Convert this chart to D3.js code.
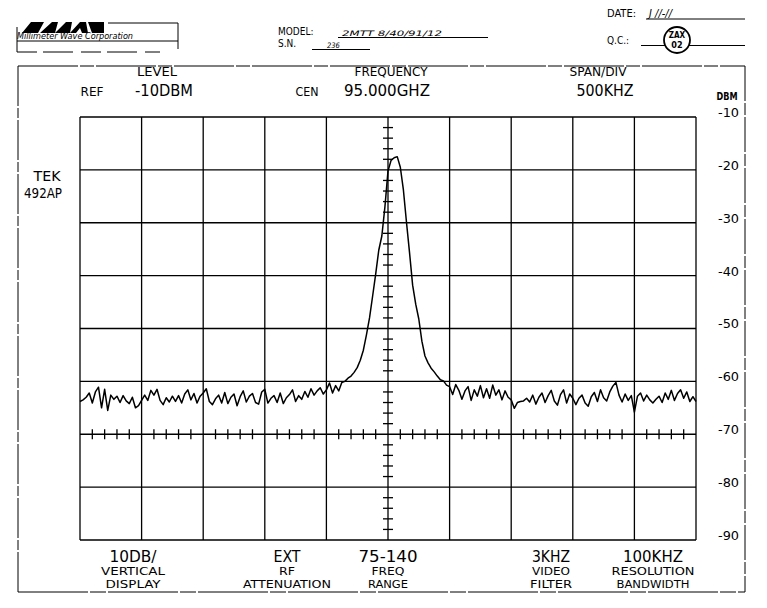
<!DOCTYPE html>
<html><head><meta charset="utf-8">
<script src="https://cdn.jsdelivr.net/npm/d3@7"></script>
<style>
html,body{margin:0;padding:0;background:#fff;}
svg{display:block;}
text{font-family:"DejaVu Sans Condensed","Liberation Sans Narrow","DejaVu Sans",sans-serif;fill:#000;}
</style></head><body>
<svg id="c" width="767" height="608"></svg>
<script>
// ---------------- data ----------------
const xTicksKHz = [-2500,-2000,-1500,-1000,-500,0,500,1000,1500,2000,2500];
const yTicksDbm = [-10,-20,-30,-40,-50,-60,-70,-80,-90];
const yTickLabels = ["-10","-20","-30","-40","-50","-60","-70","-80","-90"];
const yUnitLabel = "DBM";
const headerTitles = ["LEVEL","FREQUENCY","SPAN/DIV"];
const headerPrefixes = ["REF","CEN",""];
const headerValues = ["-10DBM","95.000GHZ","500KHZ"];
const instrumentLabel = ["TEK","492AP"];
const footerValues = ["10DB/","EXT","75-140","3KHZ","100KHZ"];
const footerLine1 = ["VERTICAL","RF","FREQ","VIDEO","RESOLUTION"];
const footerLine2 = ["DISPLAY","ATTENUATION","RANGE","FILTER","BANDWIDTH"];
const docFields = {model:"2MTT 8/40/91/12", sn:"236", date:"J //-//", qc:["ZAX","02"]};
const traceStartKHz = -2500;
const traceStepKHz = 25;
const traceDbm = [
 -63.8,-63.5,-63.0,-62.2,-64.1,-62.0,-61.1,-65.0,-61.5,-65.5,
 -62.6,-63.4,-62.8,-64.0,-62.7,-63.7,-64.2,-63.0,-65.0,-64.6,
 -63.6,-62.6,-63.6,-61.7,-62.6,-61.5,-63.6,-64.4,-63.1,-63.9,
 -62.8,-63.8,-62.7,-64.1,-62.4,-61.6,-63.5,-62.3,-64.1,-62.8,
 -62.2,-61.4,-63.8,-64.4,-63.3,-62.6,-64.1,-62.1,-64.2,-63.0,
 -62.4,-64.6,-62.9,-61.8,-63.9,-62.8,-62.3,-64.0,-64.3,-62.0,
 -61.5,-64.1,-63.2,-62.7,-64.0,-62.2,-64.2,-63.1,-62.5,-61.6,
 -63.8,-62.7,-63.4,-61.9,-63.0,-61.4,-62.6,-61.8,-61.2,-62.4,
 -61.6,-60.3,-62.2,-60.8,-61.8,-60.2,-60.0,-59.4,-59.0,-58.3,
 -57.4,-56.0,-54.1,-51.2,-48.0,-43.9,-39.7,-35.2,-32.5,-27.0,
 -20.2,-18.2,-17.7,-17.5,-19.5,-23.8,-29.9,-35.7,-41.8,-45.4,
 -48.2,-52.4,-55.2,-56.5,-57.5,-58.2,-59.0,-59.7,-59.9,-60.7,
 -61.0,-62.5,-60.6,-61.7,-63.4,-61.8,-61.0,-63.6,-61.6,-62.8,
 -60.8,-63.1,-61.4,-63.2,-60.7,-62.6,-61.6,-63.5,-61.8,-63.0,
 -63.5,-65.1,-64.0,-63.8,-63.7,-63.2,-63.9,-62.6,-64.3,-63.0,
 -62.2,-64.0,-62.7,-61.7,-63.7,-64.5,-62.5,-61.6,-64.1,-62.4,
 -63.2,-64.4,-63.2,-62.6,-64.1,-64.7,-62.9,-62.1,-63.8,-61.6,
 -63.1,-63.7,-62.0,-60.9,-60.2,-62.6,-63.9,-62.4,-63.6,-62.7,
 -65.8,-62.8,-62.2,-63.7,-62.6,-63.5,-64.1,-63.4,-62.8,-64.0,
 -62.2,-63.4,-61.7,-63.6,-62.3,-61.6,-63.2,-62.0,-63.8,-62.9,
 -63.8
];

// ---------------- layout ----------------
const svg = d3.select("#c");
const L = 80, R = 696, T = 117, B = 540;
const x = d3.scaleLinear().domain([-2500, 2500]).range([L, R]);
const y = d3.scaleLinear().domain([-90, -10]).range([B, T]);
const ink = "#000";

// outer document frame
const frame = svg.append("g").attr("stroke", ink).attr("fill", "none");
frame.append("line").attr("x1",18).attr("x2",745).attr("y1",66).attr("y2",66).attr("stroke-width",1.2).attr("stroke-dasharray","60,2,14,2");
frame.append("line").attr("x1",18).attr("x2",18).attr("y1",66).attr("y2",592).attr("stroke-width",1).attr("stroke-dasharray","40,2,10,2");
frame.append("line").attr("x1",745).attr("x2",745).attr("y1",66).attr("y2",592).attr("stroke-width",1).attr("stroke-dasharray","35,2,12,2");
frame.append("line").attr("x1",18).attr("x2",745).attr("y1",592).attr("y2",592).attr("stroke-width",1).attr("stroke-dasharray","70,2,16,2");

// logo
const logo = svg.append("g");
logo.append("path").attr("fill", ink).attr("d",
 "M22,33 L31,22 L44,22 L38,33 Z M40,33 L52,22 L58,22 L55,33 Z M55,33 L66,22 L72,22 L70,33 Z " +
 "M70,33 L80,22 L86,22 L88,33 L82,33 L80,28 L76,33 Z M88,22 L104,22 L104,33 L92,33 Z");
logo.append("text").attr("x",17).attr("y",39).attr("font-size",8).attr("font-style","italic")
 .attr("textLength",116).attr("lengthAdjust","spacingAndGlyphs").text("Millimeter Wave Corporation");
const lg = logo.append("g").attr("stroke", ink).attr("stroke-width",1).attr("fill","none");
lg.append("line").attr("x1",108).attr("x2",178).attr("y1",23).attr("y2",23);
lg.append("line").attr("x1",17).attr("x2",178).attr("y1",41).attr("y2",41);
lg.append("line").attr("x1",178).attr("x2",178).attr("y1",23).attr("y2",49);
lg.append("line").attr("x1",17).attr("x2",17).attr("y1",27).attr("y2",52);
lg.append("line").attr("x1",17).attr("x2",160).attr("y1",52).attr("y2",52).attr("stroke-dasharray","20,6,30,8");

// model / sn
svg.append("text").attr("x",278).attr("y",35).attr("font-size",10).text("MODEL:");
svg.append("text").attr("x",342).attr("y",36).attr("font-size",7.5).attr("font-style","italic")
 .attr("textLength",100).attr("lengthAdjust","spacingAndGlyphs").text(docFields.model);
svg.append("line").attr("x1",338).attr("x2",488).attr("y1",37.5).attr("y2",37.5).attr("stroke",ink);
svg.append("text").attr("x",278).attr("y",47).attr("font-size",10).text("S.N.");
svg.append("text").attr("x",327).attr("y",48).attr("font-size",7.5).attr("font-style","italic").text(docFields.sn);
svg.append("line").attr("x1",312).attr("x2",370).attr("y1",49.5).attr("y2",49.5).attr("stroke",ink);

// date / qc
svg.append("text").attr("x",607).attr("y",17).attr("font-size",11).text("DATE:");
svg.append("text").attr("x",649).attr("y",17).attr("font-size",11).attr("font-style","italic").text(docFields.date);
svg.append("line").attr("x1",646).attr("x2",745).attr("y1",19).attr("y2",19).attr("stroke",ink);
svg.append("text").attr("x",607).attr("y",44).attr("font-size",10).text("Q.C.:");
svg.append("line").attr("x1",641).attr("x2",745).attr("y1",45.5).attr("y2",45.5).attr("stroke",ink);
svg.append("circle").attr("cx",677).attr("cy",40).attr("r",13).attr("fill","#fff").attr("stroke",ink).attr("stroke-width",1.8);
svg.append("text").attr("x",677).attr("y",38).attr("font-size",8).attr("text-anchor","middle").attr("font-weight","bold").text(docFields.qc[0]);
svg.append("text").attr("x",677).attr("y",48).attr("font-size",9).attr("text-anchor","middle").attr("font-weight","bold").text(docFields.qc[1]);

// header labels
const titleX = [157, 391, 598], titleW = [40, 73, 57];
const prefX = [92, 307], prefW = [23, 23];
const valX = [164, 387, 605], valW = [58, 86, 57];
headerTitles.forEach((t,i)=>{
  svg.append("text").attr("x",titleX[i]).attr("y",76).attr("font-size",12).attr("text-anchor","middle")
   .attr("textLength",titleW[i]).attr("lengthAdjust","spacingAndGlyphs").text(t);
  svg.append("text").attr("x",valX[i]).attr("y",96).attr("font-size",16).attr("text-anchor","middle")
   .attr("textLength",valW[i]).attr("lengthAdjust","spacingAndGlyphs").text(headerValues[i]);
  if (headerPrefixes[i]) svg.append("text").attr("x",prefX[i]).attr("y",96).attr("font-size",12).attr("text-anchor","middle")
   .attr("textLength",prefW[i]).attr("lengthAdjust","spacingAndGlyphs").text(headerPrefixes[i]);
});
svg.append("text").attr("x",727).attr("y",100).attr("font-size",11).attr("font-weight","bold").attr("text-anchor","middle")
 .attr("textLength",21).attr("lengthAdjust","spacingAndGlyphs").text(yUnitLabel);

// instrument label
svg.append("text").attr("x",47).attr("y",181).attr("font-size",14).attr("text-anchor","middle")
 .attr("textLength",27).attr("lengthAdjust","spacingAndGlyphs").text(instrumentLabel[0]);
svg.append("text").attr("x",43).attr("y",198).attr("font-size",14).attr("text-anchor","middle")
 .attr("textLength",38).attr("lengthAdjust","spacingAndGlyphs").text(instrumentLabel[1]);

// grid
const grid = svg.append("g").attr("stroke", ink).attr("stroke-width",1.3).attr("fill","none");
grid.selectAll("line.v").data(xTicksKHz).join("line").attr("class","v")
  .attr("x1",d=>x(d)).attr("x2",d=>x(d)).attr("y1",T).attr("y2",B);
grid.selectAll("line.h").data(yTicksDbm).join("line").attr("class","h")
  .attr("x1",L).attr("x2",R).attr("y1",d=>y(d)).attr("y2",d=>y(d));

// minor graticule ticks: center vertical (every 2 dB) and -70 dBm line (every 100 kHz)
const vMinor = d3.range(-90, -10 + 0.001, 2).filter(v => v % 10 !== 0);
grid.selectAll("line.vm").data(vMinor).join("line").attr("class","vm")
  .attr("x1",x(0)-5).attr("x2",x(0)+5).attr("y1",d=>y(d)).attr("y2",d=>y(d));
const hMinor = d3.range(-2500, 2500 + 0.001, 100).filter(v => v % 500 !== 0);
grid.selectAll("line.hm").data(hMinor).join("line").attr("class","hm")
  .attr("x1",d=>x(d)).attr("x2",d=>x(d)).attr("y1",y(-70)-5).attr("y2",y(-70)+5);

// right axis labels
const yAxis = d3.axisRight(y).tickValues(yTicksDbm).tickSize(0).tickPadding(0)
  .tickFormat((d,i)=>yTickLabels[i]);
const ax = svg.append("g").attr("transform",`translate(${R+22},0)`).call(yAxis);
ax.select(".domain").remove();
ax.selectAll("text").attr("font-size",12).attr("dy","-0.05em").attr("fill",ink)
  .attr("font-family",'"DejaVu Sans Condensed","Liberation Sans Narrow","DejaVu Sans",sans-serif')
  .attr("textLength",21).attr("lengthAdjust","spacingAndGlyphs");

// trace
const pts = traceDbm.map((v,i)=>[traceStartKHz + i*traceStepKHz, v]);
const line = d3.line().x(d=>x(d[0])).y(d=>y(d[1]));
svg.append("path").datum(pts).attr("d",line).attr("fill","none").attr("stroke",ink)
  .attr("stroke-width",1.5).attr("stroke-linejoin","round");

// footer labels
const footX = [133, 287, 388, 551, 653];
const footVW = [47, 27, 59, 38, 60];
const foot1W = [64, 16, 33, 38, 83];
const foot2W = [55, 88, 40, 42, 73];
footerValues.forEach((t,i)=>{
  svg.append("text").attr("x",footX[i]).attr("y",562).attr("font-size",16).attr("text-anchor","middle")
   .attr("textLength",footVW[i]).attr("lengthAdjust","spacingAndGlyphs").text(t);
  svg.append("text").attr("x",footX[i]).attr("y",575).attr("font-size",11).attr("text-anchor","middle")
   .attr("textLength",foot1W[i]).attr("lengthAdjust","spacingAndGlyphs").text(footerLine1[i]);
  svg.append("text").attr("x",footX[i]).attr("y",588).attr("font-size",11).attr("text-anchor","middle")
   .attr("textLength",foot2W[i]).attr("lengthAdjust","spacingAndGlyphs").text(footerLine2[i]);
});
</script>
</body></html>
